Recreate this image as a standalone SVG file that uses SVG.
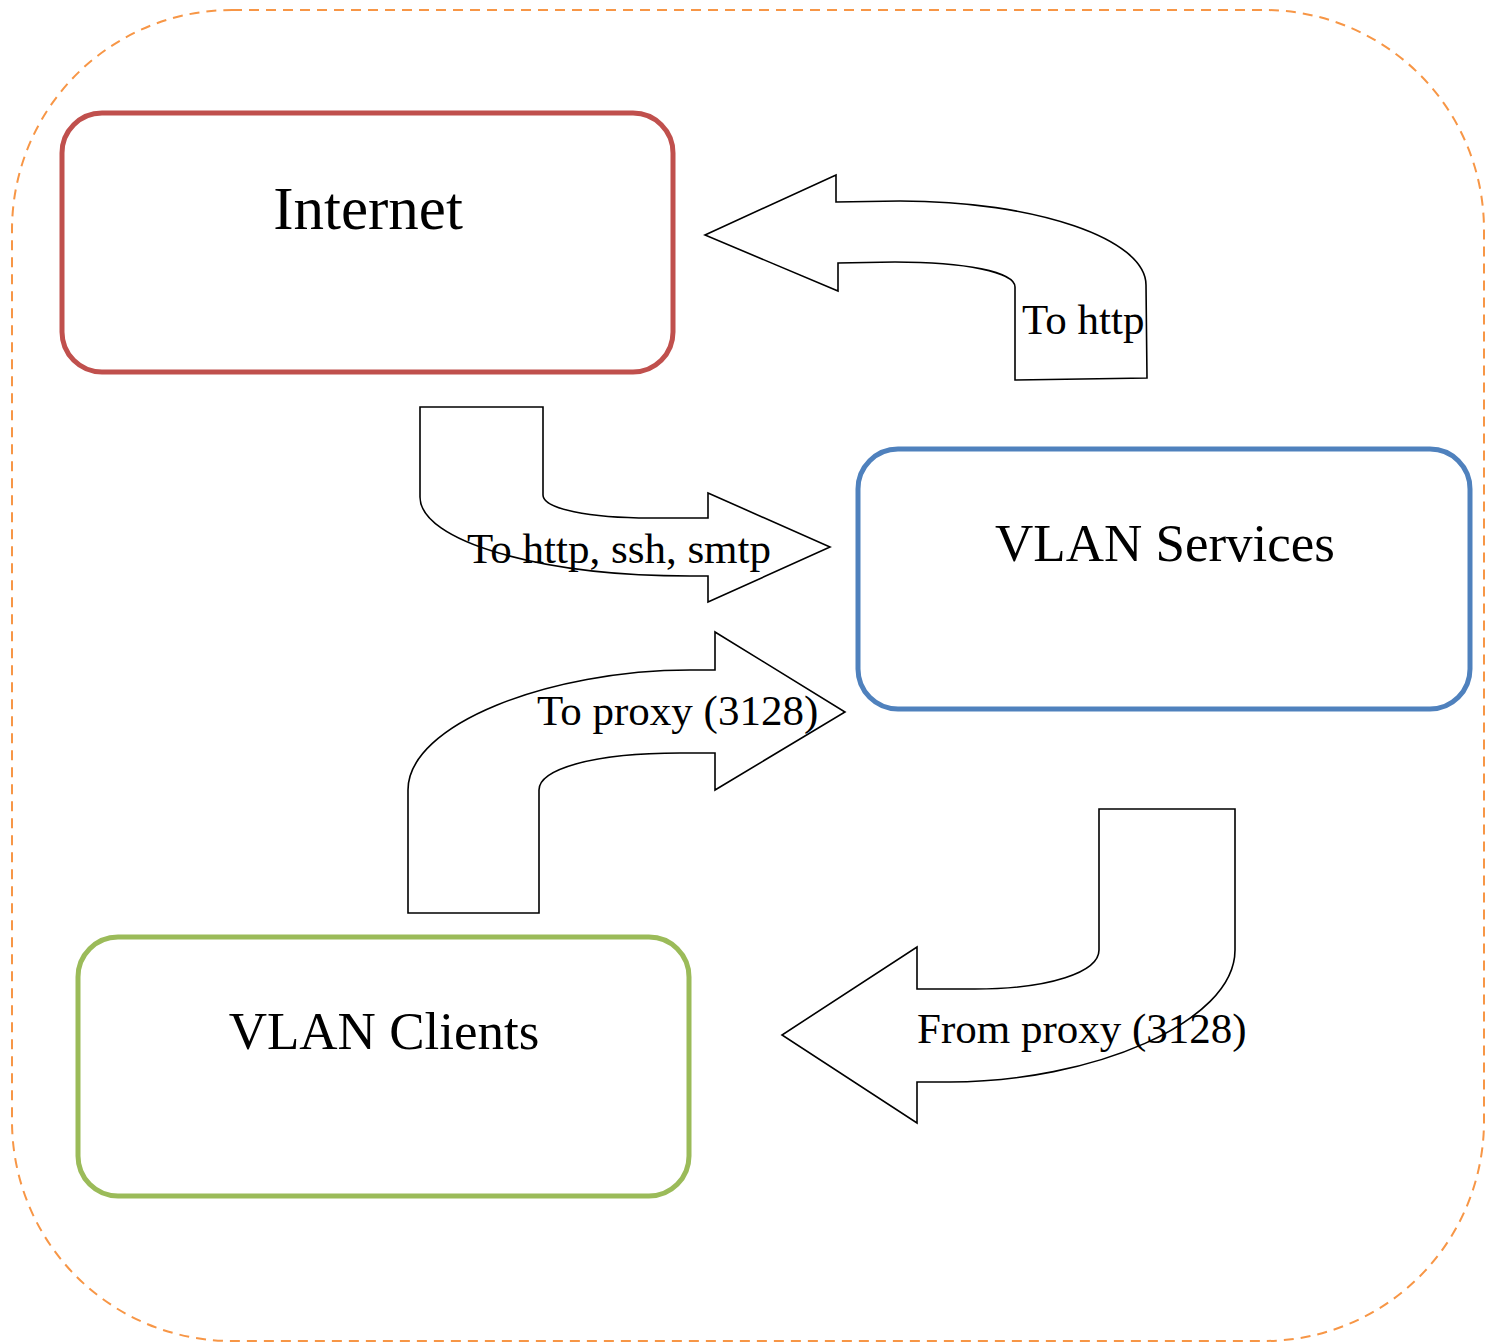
<svg xmlns="http://www.w3.org/2000/svg" width="1498" height="1343" viewBox="0 0 1498 1343">
  <style>
    .frame { fill: none; stroke: #F79646; stroke-width: 2; stroke-dasharray: 10 7; }
    .node { fill: #FFFFFF; stroke-width: 5; }
    .title { font-family: "Liberation Serif", "Times New Roman", serif; font-size: 53px; fill: #000000; text-anchor: middle; }
    .title.big { font-size: 61px; }
    .arrow { fill: #FFFFFF; stroke: #000000; stroke-width: 1.6; stroke-linejoin: miter; }
    .label { font-family: "Liberation Serif", "Times New Roman", serif; font-size: 43px; fill: #000000; }
  </style>

  <rect width="1498" height="1343" fill="#FFFFFF"/>

  <!-- outer dashed boundary -->
  <rect class="frame" x="12" y="10" width="1472" height="1331" rx="220" ry="220"/>

  <!-- nodes -->
  <g id="internet">
    <rect class="node" x="62" y="113" width="611" height="259" rx="40" ry="40" stroke="#C0504D"/>
    <text class="title big" x="368" y="229">Internet</text>
  </g>

  <g id="vlan-services">
    <rect class="node" x="858" y="449" width="612" height="260" rx="40" ry="40" stroke="#4F81BD"/>
    <text class="title" x="1165" y="561">VLAN Services</text>
  </g>

  <g id="vlan-clients">
    <rect class="node" x="78" y="937" width="611" height="259" rx="40" ry="40" stroke="#9BBB59"/>
    <text class="title" x="384" y="1049">VLAN Clients</text>
  </g>

  <!-- connectors: block arrows -->
  <g id="connectors">
    <g id="services-to-internet">
      <path class="arrow" d="M1015,380 L1015,287 C1015,272 965,262 895,262 L838,263 L838,291 L705,235 L836,175 L836,202 L900,201 C1036,201 1146,239 1146,285 L1147,378 Z"/>
      <text class="label" x="1022" y="334">To http</text>
    </g>

    <g id="internet-to-services">
      <path class="arrow" d="M420,407 L543,407 L543,495 C543,509 590,518 650,518 L708,518 L708,493 L830,547 L708,602 L708,576 L690,576 C540,576 420,541 420,497 Z"/>
      <text class="label" x="467" y="563">To http, ssh, smtp</text>
    </g>

    <g id="clients-to-services">
      <path class="arrow" d="M408,913 L408,790 C408,724 550,670 690,670 L715,670 L715,632 L845,712 L715,790 L715,753 L680,753 C590,753 539,770 539,790 L539,913 Z"/>
      <text class="label" x="537" y="725">To proxy (3128)</text>
    </g>

    <g id="services-to-clients">
      <path class="arrow" d="M1099,809 L1235,809 L1235,950 C1235,1023 1090,1082 950,1082 L917,1082 L917,1123 L782,1035 L917,947 L917,989 L975,989 C1050,989 1099,972 1099,950 Z"/>
      <text class="label" x="917" y="1043">From proxy (3128)</text>
    </g>
  </g>
</svg>
